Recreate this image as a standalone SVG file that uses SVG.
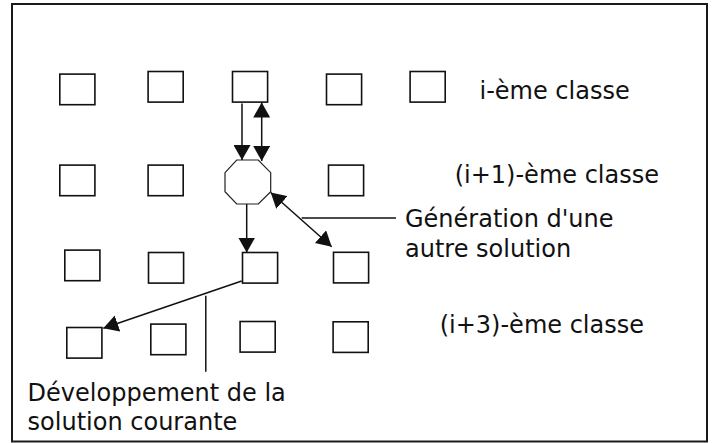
<svg xmlns="http://www.w3.org/2000/svg" width="714" height="443" viewBox="0 0 714 443">
<style>
.box{fill:#fff;stroke:#111;stroke-width:1.6}
.oct{fill:#fff;stroke:#222;stroke-width:1.2}
.ln{stroke:#111;stroke-width:1.5;fill:none}
.lbl{font-family:"DejaVu Sans","Verdana",sans-serif;font-size:24px;fill:#111}
</style>
<defs>
<marker id="ah" viewBox="0 0 15 17" markerWidth="15" markerHeight="17" refX="15" refY="8.5" markerUnits="userSpaceOnUse" orient="auto-start-reverse">
<path d="M0,0 L15,8.5 L0,17 z" fill="#111"/>
</marker>
</defs>
<rect x="12" y="4" width="695" height="437.5" fill="#fff" stroke="#1a1a1a" stroke-width="2"/>
<g id="row1">
<g id="n11"><rect class="box" x="59.8" y="74.1" width="35.1" height="30.6"/></g>
<g id="n12"><rect class="box" x="148.1" y="71.5" width="35.1" height="30.6"/></g>
<g id="n13"><rect class="box" x="232.5" y="71.5" width="35.1" height="30.6"/></g>
<g id="n14"><rect class="box" x="326.5" y="74.1" width="35.1" height="30.6"/></g>
<g id="n15"><rect class="box" x="410.1" y="71.5" width="35.1" height="30.6"/></g>
</g>
<g id="row2">
<g id="n21"><rect class="box" x="59.8" y="165.1" width="35.1" height="30.6"/></g>
<g id="n22"><rect class="box" x="148.1" y="165.1" width="35.1" height="30.6"/></g>
<g id="n23"><polygon class="oct" points="236.7,160 258.3,160 270.7,172.7 270.7,191.7 258.3,204 236.7,204 225,191.7 225,172.7"/></g>
<g id="n24"><rect class="box" x="328.5" y="165.1" width="35.1" height="30.6"/></g>
</g>
<g id="row3">
<g id="n31"><rect class="box" x="64.8" y="250.1" width="35.1" height="30.6"/></g>
<g id="n32"><rect class="box" x="148.5" y="252.5" width="35.1" height="30.6"/></g>
<g id="n33"><rect class="box" x="242.5" y="252.5" width="35.1" height="30.6"/></g>
<g id="n34"><rect class="box" x="333.5" y="252.3" width="35.1" height="30.6"/></g>
</g>
<g id="row4">
<g id="n41"><rect class="box" x="66.8" y="327.5" width="35.1" height="30.6"/></g>
<g id="n42"><rect class="box" x="150.8" y="324.1" width="35.1" height="30.6"/></g>
<g id="n43"><rect class="box" x="240.1" y="321.5" width="35.1" height="30.6"/></g>
<g id="n44"><rect class="box" x="333.1" y="321.8" width="35.1" height="30.6"/></g>
</g>
<g id="connectors">
<line class="ln" x1="242" y1="103.5" x2="242" y2="160" marker-end="url(#ah)"/>
<line class="ln" x1="261.7" y1="102.5" x2="261.7" y2="161" marker-start="url(#ah)" marker-end="url(#ah)"/>
<line class="ln" x1="246.7" y1="204" x2="246.7" y2="252.5" marker-end="url(#ah)"/>
<line class="ln" x1="270.7" y1="192.5" x2="331.7" y2="246.7" marker-start="url(#ah)" marker-end="url(#ah)"/>
<line class="ln" x1="241.7" y1="281" x2="103.3" y2="328.3" marker-end="url(#ah)"/>
<line class="ln" x1="301.7" y1="218" x2="396" y2="218"/>
<line class="ln" x1="205.8" y1="295.7" x2="205.8" y2="371.7"/>
</g>
<g id="labels">
<text class="lbl" x="479.5" y="99.3">i-ème classe</text>
<text class="lbl" x="454.7" y="182.7">(i+1)-ème classe</text>
<text class="lbl" x="405" y="227.3">Génération d'une</text>
<text class="lbl" x="405" y="256.7">autre solution</text>
<text class="lbl" x="439.7" y="333.3">(i+3)-ème classe</text>
<text class="lbl" x="27.6" y="401">Développement de la</text>
<text class="lbl" x="27.6" y="430">solution courante</text>
</g>
</svg>
